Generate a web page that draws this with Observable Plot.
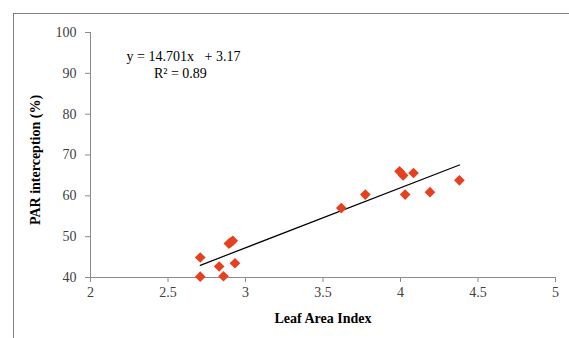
<!DOCTYPE html>
<html>
<head>
<meta charset="utf-8">
<script src="https://cdn.jsdelivr.net/npm/d3@7"></script>
<script src="https://cdn.jsdelivr.net/npm/@observablehq/plot@0.6"></script>
<style>
  html, body { margin: 0; padding: 0; background: #fff; }
  #wrap { position: relative; width: 569px; height: 338px; overflow: hidden; }
  #frame { position: absolute; left: 13px; top: 13px; width: 600px; height: 400px;
           border-top: 1.5px solid #808080; border-left: 1.5px solid #808080; }
  #chart { position: absolute; left: 0; top: 0; }
</style>
</head>
<body>
<div id="wrap"><div id="frame"></div><div id="chart"></div></div>
<script>
// Leaf Area Index (x) and PAR interception % (y)
const lai = [2.708, 2.708, 2.83, 2.858, 2.893, 2.905, 2.918, 2.932, 3.618, 3.773, 3.994, 4.017, 4.084, 4.03, 4.19, 4.38];
const par = [44.9, 40.2, 42.7, 40.3, 48.3, 48.6, 49.0, 43.5, 57.0, 60.3, 66.0, 65.0, 65.6, 60.3, 60.9, 63.8];
const xTicks = [2, 2.5, 3, 3.5, 4, 4.5, 5];
const yTicks = [40, 50, 60, 70, 80, 90, 100];
const slope = 14.701, intercept = 3.17;
const eqLines = ["y = 14.701x\u00a0\u00a0 + 3.17", "R² = 0.89"];
const eqX = [2.6, 2.58];
const eqY = [94.2, 89.9];

const points = lai.map((x, i) => ({x, y: par[i]}));
const [x0, x1] = d3.extent(lai);
const fit = [x0, x1].map(x => ({x, y: slope * x + intercept}));
const eq = eqLines.map((t, i) => ({t, x: eqX[i], y: eqY[i]}));

const plot = Plot.plot({
  width: 569,
  height: 338,
  marginLeft: 90,
  marginRight: 14,
  marginTop: 32,
  marginBottom: 61,
  style: {fontFamily: "'Liberation Serif', 'Times New Roman', serif", fontSize: "14px", background: "transparent"},
  x: {domain: [2, 5], ticks: xTicks},
  y: {domain: [40, 100], ticks: yTicks},
  marks: [
    Plot.axisX({ticks: xTicks, tickFormat: d => String(d), tickSize: 5, tickPadding: 5, stroke: "#8c8c8c", color: "#404040", label: null, fontSize: 14}),
    Plot.axisY({ticks: yTicks, tickFormat: d => String(d), tickSize: 5, tickPadding: 9, stroke: "#8c8c8c", color: "#404040", label: null, fontSize: 14}),
    Plot.ruleX([2], {stroke: "#8c8c8c"}),
    Plot.ruleY([40], {stroke: "#8c8c8c"}),
    Plot.line(fit, {x: "x", y: "y", stroke: "#000", strokeWidth: 1.2}),
    Plot.dot(points, {x: "x", y: "y", symbol: "diamond2", r: 4.8, fill: "#e8401e", stroke: "none"}),
    Plot.text(eq, {x: "x", y: "y", text: "t", fontSize: 14, fill: "#000"}),
    Plot.text(["Leaf Area Index"], {frameAnchor: "bottom", textAnchor: "middle", lineAnchor: "middle", dy: 41, fontWeight: "bold", fontSize: 14, fill: "#000"}),
    Plot.text(["PAR interception (%)"], {frameAnchor: "left", textAnchor: "middle", lineAnchor: "middle", dx: -55, dy: 5, rotate: -90, fontWeight: "bold", fontSize: 14, fill: "#000"})
  ]
});
document.getElementById("chart").appendChild(plot);
</script>
</body>
</html>
